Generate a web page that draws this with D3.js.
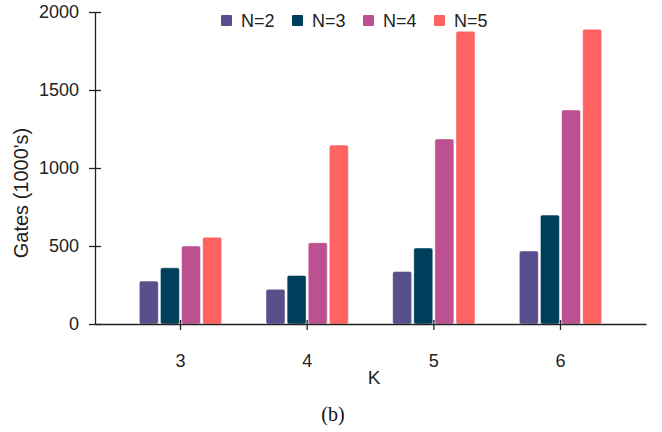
<!DOCTYPE html>
<html>
<head>
<meta charset="utf-8">
<script src="https://cdn.jsdelivr.net/npm/d3@7/dist/d3.min.js"></script>
<style>
  body { margin: 0; background: #fff; }
  svg { display: block; font-family: "Liberation Sans", Arial, sans-serif; }
  .axis path, .axis line { stroke: #222; stroke-width: 1.3; }
  .axis text { fill: #222; font-size: 18px; }
</style>
</head>
<body>
<div id="chart"></div>
<script>
// data
var categories = ['3', '4', '5', '6'];
var seriesNames = ['N=2', 'N=3', 'N=4', 'N=5'];
var n2 = [275, 222, 337, 468];
var n3 = [360, 311, 487, 698];
var n4 = [500, 521, 1186, 1372];
var n5 = [556, 1147, 1876, 1889];
var yTicks = [0, 500, 1000, 1500, 2000];
var colors = ['#58508d', '#003f5c', '#bc5090', '#ff6361'];

var seriesValues = [n2, n3, n4, n5];

var width = 662, height = 432;
var margin = {top: 12, right: 16, bottom: 108, left: 95};
var innerW = width - margin.left - margin.right;
var innerH = height - margin.top - margin.bottom;

var svg = d3.select('#chart').append('svg')
  .attr('width', width)
  .attr('height', height);

var g = svg.append('g')
  .attr('transform', 'translate(' + margin.left + ',' + margin.top + ')');

var x0 = d3.scaleBand()
  .domain(categories)
  .range([0, innerW])
  .paddingInner(0.35)
  .paddingOuter(0.35);

var x1 = d3.scaleBand()
  .domain(seriesNames)
  .range([0, x0.bandwidth()])
  .paddingInner(0.1);

var y = d3.scaleLinear()
  .domain([0, 2000])
  .range([innerH, 0]);

// bars
var rows = categories.map(function(c, i) {
  return seriesNames.map(function(s, j) {
    return {cat: c, series: s, value: seriesValues[j][i], color: colors[j]};
  });
});

g.selectAll('.group')
  .data(rows)
.enter().append('g')
  .attr('class', 'group')
  .attr('transform', function(d, i) { return 'translate(' + x0(categories[i]) + ',0)'; })
  .selectAll('rect')
  .data(function(d) { return d; })
.enter().append('rect')
  .attr('x', function(d) { return x1(d.series); })
  .attr('y', function(d) { return y(d.value); })
  .attr('width', x1.bandwidth())
  .attr('height', function(d) { return innerH - y(d.value); })
  .attr('rx', 2)
  .attr('fill', function(d) { return d.color; })
  .attr('stroke', 'rgba(255,255,255,0.45)')
  .attr('stroke-width', 1);

// y axis
var yAxis = g.append('g')
  .attr('class', 'axis')
  .call(d3.axisLeft(y).tickValues(yTicks).tickFormat(d3.format('d')).tickSize(6).tickSizeOuter(0));
yAxis.selectAll('.tick line').attr('x1', 6).attr('x2', -6);
yAxis.selectAll('.tick text').attr('x', -16);

// x axis
var xAxis = g.append('g')
  .attr('class', 'axis')
  .attr('transform', 'translate(0,' + innerH + ')')
  .call(d3.axisBottom(x0).tickSize(6).tickSizeOuter(0));
xAxis.selectAll('.tick line').attr('y1', -4).attr('y2', 6);
xAxis.selectAll('.tick text').attr('y', 30);

// axis titles
svg.append('text')
  .attr('transform', 'translate(28,' + (margin.top + 181) + ') rotate(-90)')
  .attr('text-anchor', 'middle')
  .style('font-size', '20px')
  .attr('fill', '#222')
  .text("Gates (1000's)");

svg.append('text')
  .attr('x', 374)
  .attr('y', 384)
  .attr('text-anchor', 'middle')
  .style('font-size', '19px')
  .attr('fill', '#222')
  .text('K');

svg.append('text')
  .attr('x', 333)
  .attr('y', 421)
  .attr('text-anchor', 'middle')
  .style('font-family', '"Liberation Serif", "Times New Roman", serif')
  .style('font-size', '20px')
  .attr('fill', '#111')
  .text('(b)');

// legend
var legend = svg.append('g')
  .attr('transform', 'translate(221,15)');

var item = legend.selectAll('.legend-item')
  .data(seriesNames)
.enter().append('g')
  .attr('class', 'legend-item')
  .attr('transform', function(d, i) { return 'translate(' + (i * 71) + ',0)'; });

item.append('rect')
  .attr('width', 11)
  .attr('height', 11)
  .attr('rx', 1)
  .attr('fill', function(d, i) { return colors[i]; });

item.append('text')
  .attr('x', 20)
  .attr('y', 12)
  .style('font-size', '18px')
  .attr('fill', '#222')
  .text(function(d) { return d; });
</script>
</body>
</html>
